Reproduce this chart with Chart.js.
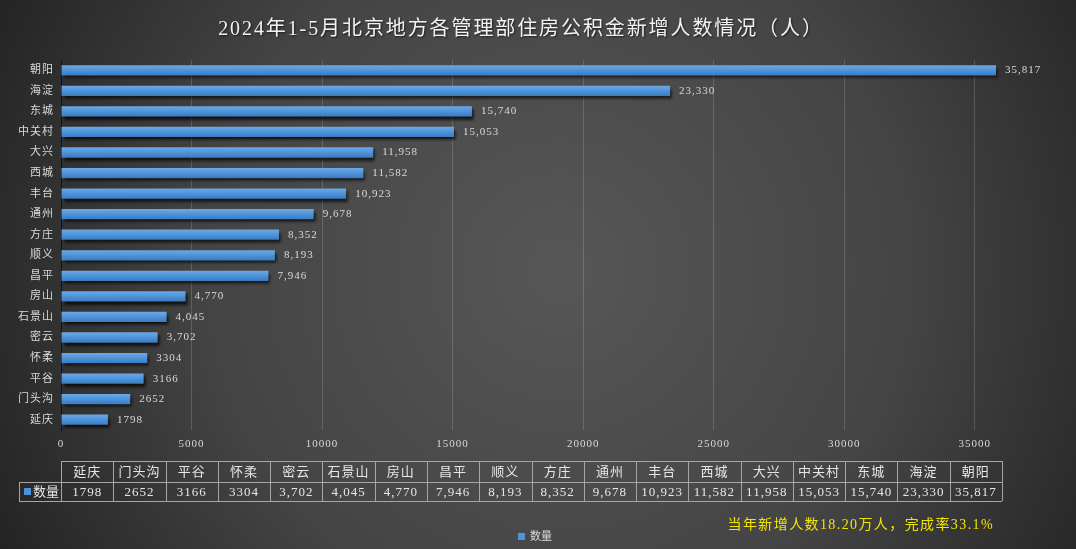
<!DOCTYPE html>
<html>
<head>
<meta charset="utf-8">
<script src="https://cdn.jsdelivr.net/npm/chart.js@4.4.1/dist/chart.umd.min.js"></script>
<style>
  html, body { margin: 0; padding: 0; background: #333; }
  canvas { display: block; }
</style>
</head>
<body>
<canvas id="chart" width="1076" height="549"></canvas>
<script>
const titleText = '2024年1-5月北京地方各管理部住房公积金新增人数情况（人）';
const noteText = '当年新增人数18.20万人，完成率33.1%';
const seriesName = '数量';

const categories = ['延庆', '门头沟', '平谷', '怀柔', '密云', '石景山', '房山', '昌平', '顺义',
  '方庄', '通州', '丰台', '西城', '大兴', '中关村', '东城', '海淀', '朝阳'];
const values = [1798, 2652, 3166, 3304, 3702, 4045, 4770, 7946, 8193,
  8352, 9678, 10923, 11582, 11958, 15053, 15740, 23330, 35817];
const valueLabels = ['1798', '2652', '3166', '3304', '3,702', '4,045', '4,770', '7,946', '8,193',
  '8,352', '9,678', '10,923', '11,582', '11,958', '15,053', '15,740', '23,330', '35,817'];
const xTicks = [0, 5000, 10000, 15000, 20000, 25000, 30000, 35000];

const serif = '"Liberation Serif", "Noto Sans CJK SC", serif';
const textColor = '#d9d9d9';
const barColor = '#4f93d8';

// page background, title, letter spacing for canvas text
const backgroundPlugin = {
  id: 'background',
  beforeDraw(chart) {
    const { ctx, width, height } = chart;
    const g = ctx.createRadialGradient(560, 270, 0, 560, 270, 640);
    g.addColorStop(0, '#575757');
    g.addColorStop(0.55, '#444444');
    g.addColorStop(1, '#222222');
    ctx.fillStyle = g;
    ctx.fillRect(0, 0, width, height);
    ctx.letterSpacing = '1px';

    ctx.save();
    ctx.letterSpacing = '1.9px';
    ctx.font = `20px ${serif}`;
    ctx.fillStyle = '#f2f2f2';
    ctx.textAlign = 'center';
    ctx.textBaseline = 'middle';
    ctx.shadowColor = 'rgba(0,0,0,0.6)';
    ctx.shadowOffsetX = 1;
    ctx.shadowOffsetY = 1;
    ctx.shadowBlur = 2;
    ctx.fillText(titleText, 521, 30);
    ctx.restore();
  }
};

const shadowPlugin = {
  id: 'barShadow',
  beforeDatasetsDraw(chart) {
    const ctx = chart.ctx;
    ctx.save();
    ctx.shadowColor = 'rgba(0,0,0,0.75)';
    ctx.shadowOffsetX = 2;
    ctx.shadowOffsetY = 3;
    ctx.shadowBlur = 3;
  },
  afterDatasetsDraw(chart) {
    chart.ctx.restore();
  }
};

const valueLabelPlugin = {
  id: 'valueLabels',
  afterDatasetsDraw(chart) {
    const ctx = chart.ctx;
    const meta = chart.getDatasetMeta(0);
    ctx.save();
    ctx.font = `11px ${serif}`;
    ctx.fillStyle = textColor;
    ctx.textAlign = 'left';
    ctx.textBaseline = 'middle';
    meta.data.forEach((bar, i) => {
      ctx.fillText(valueLabels[i], bar.x + 9, bar.y);
    });
    ctx.restore();
  }
};

// data table, note and legend under the plot
const tablePlugin = {
  id: 'dataTable',
  afterDraw(chart) {
    const ctx = chart.ctx;
    const left = chart.chartArea.left;
    const keyLeft = 19, right = 1002;
    const top = 461, mid = 482, bottom = 501;
    const colW = (right - left) / categories.length;

    ctx.save();
    ctx.strokeStyle = '#a6a6a6';
    ctx.lineWidth = 1;
    ctx.beginPath();
    ctx.moveTo(left, top + 0.5); ctx.lineTo(right, top + 0.5);
    ctx.moveTo(keyLeft, mid + 0.5); ctx.lineTo(right, mid + 0.5);
    ctx.moveTo(keyLeft, bottom + 0.5); ctx.lineTo(right, bottom + 0.5);
    ctx.moveTo(keyLeft + 0.5, mid); ctx.lineTo(keyLeft + 0.5, bottom);
    for (let i = 0; i <= categories.length; i++) {
      const x = Math.round(left + i * colW) + 0.5;
      ctx.moveTo(x, top); ctx.lineTo(x, bottom);
    }
    ctx.stroke();

    ctx.font = `13px ${serif}`;
    ctx.fillStyle = '#e6e6e6';
    ctx.textAlign = 'center';
    ctx.textBaseline = 'middle';
    categories.forEach((c, i) => {
      const cx = left + (i + 0.5) * colW;
      ctx.fillText(c, cx, (top + mid) / 2 + 1);
      ctx.fillText(valueLabels[i], cx, (mid + bottom) / 2 + 1);
    });

    ctx.fillStyle = barColor;
    ctx.fillRect(24, 488, 7, 7);
    ctx.fillStyle = '#e6e6e6';
    ctx.textAlign = 'left';
    ctx.letterSpacing = '0px';
    ctx.fillText(seriesName, 33, (mid + bottom) / 2 + 1);

    // legend
    ctx.fillStyle = barColor;
    ctx.fillRect(518, 533, 7, 7);
    ctx.font = `11px ${serif}`;
    ctx.fillStyle = textColor;
    ctx.fillText(seriesName, 530, 537);

    ctx.font = `14px ${serif}`;
    ctx.fillStyle = '#f2e600';
    ctx.textAlign = 'right';
    ctx.letterSpacing = '1.4px';
    ctx.fillText(noteText, 994, 525);
    ctx.restore();
  }
};

function barGradient(context) {
  const chart = context.chart;
  const yScale = chart.scales.y;
  if (!chart.chartArea || !yScale || context.dataIndex === undefined) return barColor;
  const cy = yScale.getPixelForValue(context.dataIndex);
  const g = chart.ctx.createLinearGradient(0, cy - 5, 0, cy + 5);
  g.addColorStop(0, '#6aa9e8');
  g.addColorStop(0.5, barColor);
  g.addColorStop(1, '#3b7bc3');
  return g;
}

new Chart(document.getElementById('chart'), {
  type: 'bar',
  data: {
    labels: categories,
    datasets: [{
      label: seriesName,
      data: values,
      backgroundColor: barGradient,
      borderWidth: 0,
      barPercentage: 0.5,
      categoryPercentage: 1
    }]
  },
  options: {
    indexAxis: 'y',
    responsive: false,
    animation: false,
    layout: { padding: { left: 0, top: 60, right: 36, bottom: 0 } },
    scales: {
      x: {
        min: 0,
        max: 37500,
        afterBuildTicks: scale => {
          scale.ticks = xTicks.map(v => ({ value: v }));
        },
        afterFit: scale => { scale.height = 119; },
        grid: { color: 'rgba(255,255,255,0.16)', drawTicks: false },
        border: { display: false },
        ticks: {
          color: textColor,
          font: { family: serif, size: 11 },
          padding: 8,
          maxRotation: 0,
          callback: value => String(value)
        }
      },
      y: {
        reverse: true,
        afterFit: scale => { scale.width = 61; },
        grid: { display: false },
        border: { display: true, color: '#111111', width: 1 },
        ticks: {
          color: textColor,
          font: { family: serif, size: 11 },
          padding: -1
        }
      }
    },
    plugins: {
      legend: { display: false },
      title: { display: false },
      tooltip: { enabled: false }
    }
  },
  plugins: [backgroundPlugin, shadowPlugin, valueLabelPlugin, tablePlugin]
});
</script>
</body>
</html>
